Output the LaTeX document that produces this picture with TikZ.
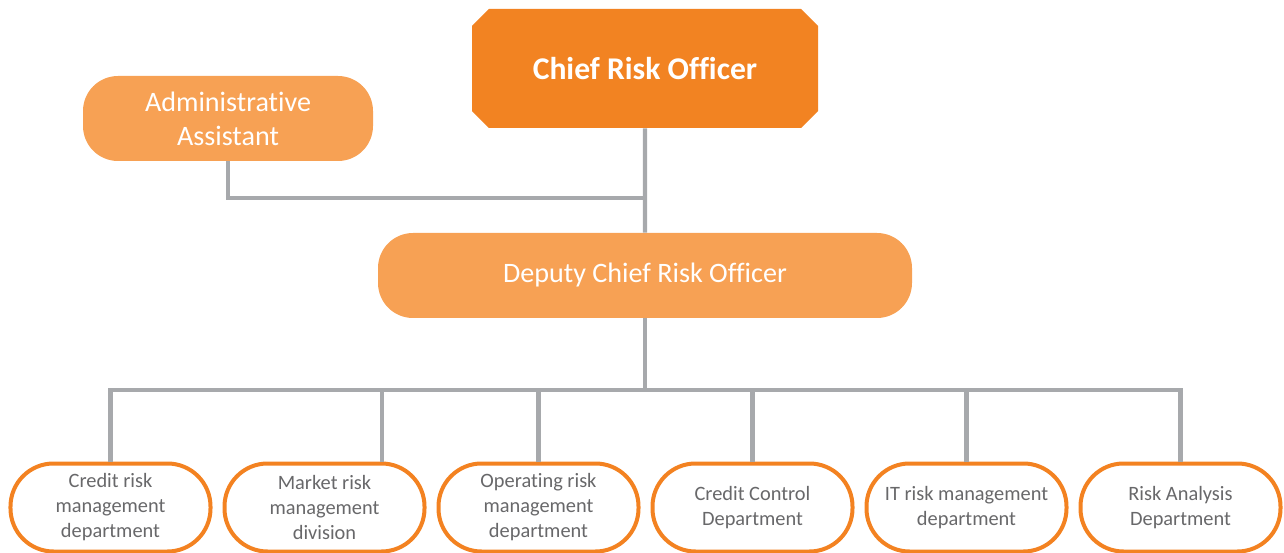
\documentclass[tikz,border=0pt]{standalone}
\usepackage{fontspec}
\setmainfont{Carlito}[RawFeature=-liga]
\usepackage{tikz}
\usetikzlibrary{shapes.misc}
\definecolor{croorange}{RGB}{242,131,34}
\definecolor{leadorange}{RGB}{247,161,84}
\definecolor{deptorange}{RGB}{243,130,33}
\definecolor{linkgray}{RGB}{167,169,172}
\definecolor{deptgray}{RGB}{104,104,106}
\tikzstyle{chief} = [chamfered rectangle, chamfered rectangle xsep=0.44cm, minimum width=6.92cm, minimum height=2.38cm, inner sep=0pt, fill=croorange, text=white, font=\fontsize{18}{21}\selectfont\bfseries]
\tikzstyle{lead} = [rectangle, rounded corners=0.7cm, minimum height=1.7cm, align=center, inner sep=0pt, fill=leadorange, text=white, font=\fontsize{16}{19.4}\selectfont]
\tikzstyle{dept} = [rectangle, rounded corners=0.86cm, minimum width=4cm, minimum height=1.76cm, align=center, inner sep=0pt, draw=deptorange, line width=0.08cm, fill=white, text=deptgray, font=\fontsize{11.6}{14.2}\selectfont]
\tikzstyle{link} = [draw=linkgray, line width=0.085cm]

\begin{document}
\begin{tikzpicture}[node distance = 4.28cm]
\useasboundingbox (0,0) rectangle (25.68,-11.06);
\clip (0,0) rectangle (25.68,-11.06);
\node(cro)[chief] at (12.9,-1.37){Chief Risk Officer};
\node(dcro)[lead, minimum width=10.68cm, below of = cro, yshift = 0.14cm]{Deputy Chief Risk Officer};
\node(admin)[lead, minimum width=5.8cm, left of = cro, xshift = -4.06cm, yshift = -1.0cm]{Administrative\\Assistant};
\node(credit)[dept, below of = dcro, xshift = -10.69cm, yshift = -0.36cm]{Credit risk\\management\\department};
\node(market)[dept, right of = credit]{Market risk\\management\\division};
\node(operating)[dept, right of = market]{Operating risk\\management\\department};
\node(control)[dept, right of = operating]{Credit Control\\Department};
\node(itrisk)[dept, right of = control]{IT risk management\\department};
\node(analysis)[dept, right of = itrisk]{Risk Analysis\\Department};
\coordinate(adminjoin) at (12.9,-3.96);
\coordinate(bus) at (12.9,-7.8);
\draw[link](cro) -- (dcro);
\draw[link](admin) |- (adminjoin);
\draw[link](dcro) -- (bus);
\draw[link](credit) |- (bus);
\draw[link]([xshift=1.15cm]market.north) |- (bus);
\draw[link](operating) |- (bus);
\draw[link](control) |- (bus);
\draw[link](itrisk) |- (bus);
\draw[link](analysis) |- (bus);
\end{tikzpicture}
\end{document}
